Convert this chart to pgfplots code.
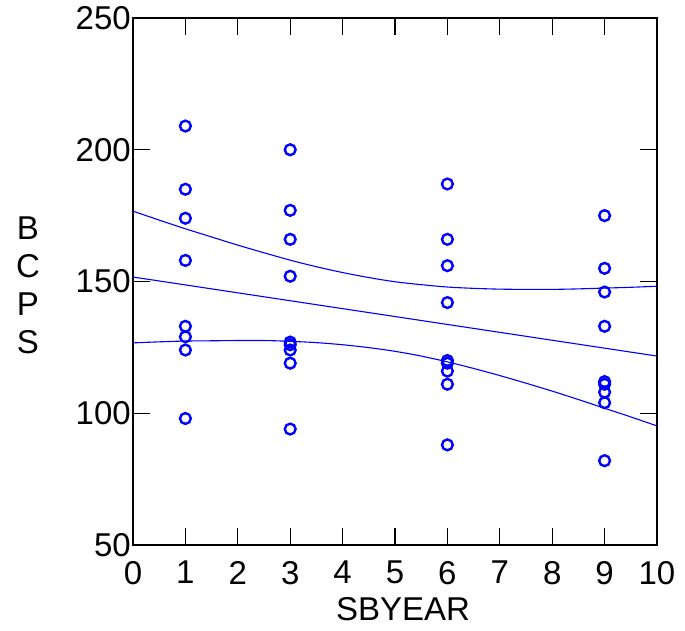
\documentclass[border=0pt]{standalone}
\usepackage{fontspec}
\setmainfont{Liberation Sans}
\usepackage{pgfplots}
\pgfplotsset{compat=1.18}
\definecolor{pblue}{RGB}{0,0,255}
\begin{document}
\begin{tikzpicture}
\begin{axis}[
  name=ax,
  scale only axis,
  width=524pt, height=527pt,
  xmin=0, xmax=10, ymin=50, ymax=250,
  xtick={0,1,...,10}, ytick={50,100,150,200,250},
  tick align=inside,
  major tick length=17pt,
  tick style={black, line width=1.2pt},
  axis line style={black, line width=1.4pt},
  /pgf/number format/assume math mode=true,
  tick label style={font=\fontsize{33}{33}\selectfont, inner sep=1pt},
  xticklabel style={yshift=-15pt},
  yticklabel style={xshift=-1pt},
  xlabel={SBYEAR},
  ylabel={B\\C\\P\\S},
  every axis x label/.style={at={(axis description cs:0.5,0)}, anchor=north, yshift=-52pt, xshift=8pt, inner sep=0pt, font=\fontsize{33}{33}\selectfont},
  every axis y label/.style={at={(axis description cs:0,0.5)}, anchor=center, xshift=-105pt, yshift=-4pt, align=center, font=\fontsize{33}{38}\selectfont},
  clip=false,
]
\addplot[pblue, line width=1.1pt] coordinates {(0,151.7) (10,121.7)};
\addplot[pblue, line width=1.1pt, smooth] coordinates {
(0,176.7) (0.5,173.3) (1,170.0) (1.5,166.9) (2,163.8) (2.5,160.9) (3,158.1) (3.5,155.6) (4,153.4) (4.5,151.5) (5,149.9) (5.5,148.8) (6,147.9) (6.5,147.4) (7,147.1) (7.5,147.0) (8,147.0) (8.5,147.2) (9,147.5) (9.5,147.8) (10,148.2)};
\addplot[pblue, line width=1.1pt, smooth] coordinates {
(0,126.7) (0.5,127.1) (1,127.4) (1.5,127.5) (2,127.6) (2.5,127.6) (3,127.3) (3.5,126.8) (4,126.0) (4.5,124.9) (5,123.5) (5.5,121.7) (6,119.5) (6.5,117.0) (7,114.3) (7.5,111.4) (8,108.4) (8.5,105.2) (9,101.9) (9.5,98.6) (10,95.2)};
\addplot[only marks, pblue, line width=2.4pt, mark=o, mark size=5.4pt, mark options={draw=pblue, line width=2.4pt}] coordinates {
(1,209) (1,185) (1,174) (1,158) (1,133) (1,129) (1,124) (1,98)
(3,200) (3,177) (3,166) (3,152) (3,127) (3,126) (3,124) (3,119) (3,94)
(6,187) (6,166) (6,156) (6,142) (6,120) (6,119) (6,116) (6,111) (6,88)
(9,175) (9,155) (9,146) (9,133) (9,112) (9,111) (9,108) (9,104) (9,82)};
\end{axis}
\pgfresetboundingbox
\path (ax.south west) ++(-133pt,-86pt) coordinate (bl);
\path (ax.north east) ++(28pt,18pt) coordinate (tr);
\path (bl) rectangle (tr);
\end{tikzpicture}
\end{document}
